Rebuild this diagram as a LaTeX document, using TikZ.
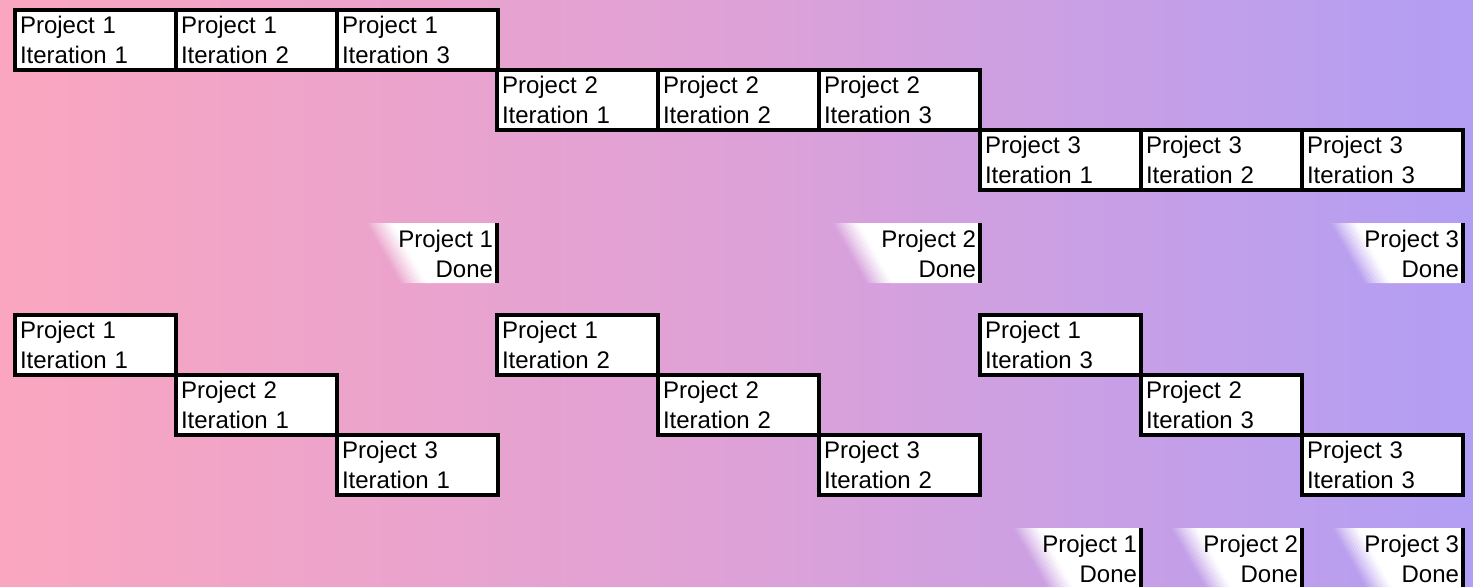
\documentclass[tikz,border=0pt]{standalone}
\usepackage{fontspec}
\setmainfont{Liberation Sans}
\definecolor{bgL}{RGB}{250,166,192}
\definecolor{bgM}{RGB}{222,161,215}
\definecolor{bgR}{RGB}{178,158,244}
\pgfdeclarehorizontalshading{bgsh}{100bp}{color(0bp)=(bgL); color(25bp)=(bgL); color(50bp)=(bgM); color(75bp)=(bgR); color(100bp)=(bgR)}
\tikzset{
  itbox/.style={rectangle, draw=black, fill=white, line width=2.4pt, outer sep=0pt,
    anchor=north west, minimum height=30pt, text width=75.5pt, inner xsep=2.5pt,
    inner ysep=0pt, align=left, font=\fontsize{12pt}{15pt}\selectfont},
  donetext/.style={anchor=north east, inner sep=0pt, outer sep=0pt, align=right,
    font=\fontsize{12pt}{15pt}\selectfont},
  donebar/.style={line width=2pt, draw=black},
}
% #1 name, #2 right x, #3 top y, #4 first line, #5 offset of the fade at the top
\newcommand\doneblock[5]{%
  \foreach \k [evaluate=\k as \op using (\k+0.5)/10,
               evaluate=\k as \xa using #2-#5-13+2.6*\k] in {0,...,9}{%
    \fill[white, fill opacity=\op] (\xa,#3) -- (\xa+2.9,#3) -- (\xa+2.9+34,#3+60) -- (\xa+34,#3+60) -- cycle;
  }
  \fill[white] (#2-#5+13,#3) -- (#2,#3) -- (#2,#3+60) -- (#2-#5+13+34,#3+60) -- cycle;
  \node[donetext] (#1) at (#2-4,#3+7) {#4\\Done};
  \draw[donebar] (#2,#3) -- (#2,#3+60);
}
\begin{document}
\begin{tikzpicture}[x=0.5pt,y=-0.5pt]
\useasboundingbox (0,0) rectangle (1473,586);
\shade[shading=bgsh] (0,0) rectangle (1473,586);
% top staircase
\node[itbox] (a11) at (15,10)  {Project 1\\Iteration 1};
\node[itbox] (a12) at (176,10) {Project 1\\Iteration 2};
\node[itbox] (a13) at (337,10) {Project 1\\Iteration 3};
\node[itbox] (a21) at (497,70) {Project 2\\Iteration 1};
\node[itbox] (a22) at (658,70) {Project 2\\Iteration 2};
\node[itbox] (a23) at (819,70) {Project 2\\Iteration 3};
\node[itbox] (a31) at (980,130)  {Project 3\\Iteration 1};
\node[itbox] (a32) at (1141,130) {Project 3\\Iteration 2};
\node[itbox] (a33) at (1302,130) {Project 3\\Iteration 3};
\doneblock{d1}{497}{223}{Project 1}{118}
\doneblock{d2}{980}{223}{Project 2}{135}
\doneblock{d3}{1463}{223}{Project 3}{120}
% bottom staircase
\node[itbox] (b11) at (15,315)   {Project 1\\Iteration 1};
\node[itbox] (b21) at (176,375)  {Project 2\\Iteration 1};
\node[itbox] (b31) at (337,435)  {Project 3\\Iteration 1};
\node[itbox] (b12) at (497,315)  {Project 1\\Iteration 2};
\node[itbox] (b22) at (658,375)  {Project 2\\Iteration 2};
\node[itbox] (b32) at (819,435)  {Project 3\\Iteration 2};
\node[itbox] (b13) at (980,315)  {Project 1\\Iteration 3};
\node[itbox] (b23) at (1141,375) {Project 2\\Iteration 3};
\node[itbox] (b33) at (1302,435) {Project 3\\Iteration 3};
\doneblock{e1}{1141}{528}{Project 1}{115}
\doneblock{e2}{1302}{528}{Project 2}{118}
\doneblock{e3}{1463}{528}{Project 3}{118}
\end{tikzpicture}
\end{document}
